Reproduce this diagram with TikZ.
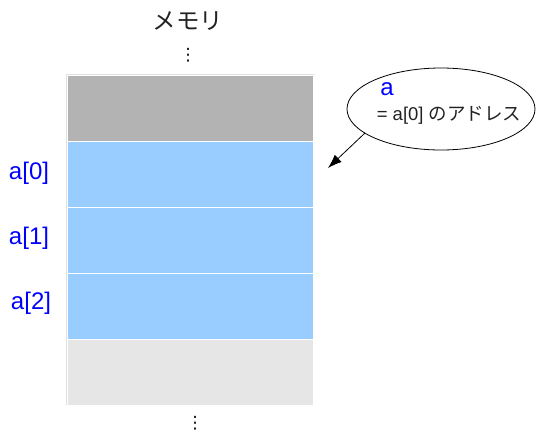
\documentclass[tikz,border=0pt]{standalone}
\usepackage{fontspec}
\setmainfont{Liberation Sans}
\newfontfamily\cjk{Noto Sans CJK JP}
\newfontfamily\dvs{DejaVu Sans}
\usetikzlibrary{arrows.meta,shapes.geometric}
\definecolor{cellgray}{HTML}{B3B3B3}
\definecolor{cellblue}{HTML}{99CCFF}
\definecolor{celllight}{HTML}{E6E6E6}
\definecolor{labelblue}{HTML}{0000FF}
\definecolor{txtgray}{HTML}{222222}
\tikzset{
  cell/.style={rectangle, minimum width=246pt, minimum height=66pt, inner sep=0pt, draw=white, line width=1pt},
  idx/.style={text=labelblue, font=\fontsize{24}{26}\selectfont, inner sep=0pt},
  dots/.style={font=\dvs\fontsize{17}{17}\selectfont, inner sep=0pt}
}
\begin{document}
\begin{tikzpicture}[x=1pt,y=-1pt]
\useasboundingbox (0,0) rectangle (537,439);
\draw[draw=black!12, line width=1pt] (66.5,74.5) rectangle (313.5,404.5);
\node[cell, fill=cellgray] (c0) at (190,108) {};
\node[cell, fill=cellblue] (c1) at (190,174) {};
\node[cell, fill=cellblue] (c2) at (190,240) {};
\node[cell, fill=cellblue] (c3) at (190,306) {};
\node[cell, fill=celllight] (c4) at (190,372) {};
\node[font=\cjk\fontsize{23.5}{25}\selectfont, text=txtgray, inner sep=0pt] (title) at (188,21) {メモリ};
\node[dots] (dtop) at (188,55) {⋮};
\node[dots] (dbot) at (195,423) {⋮};
\node[idx] (l0) at (29,173) {a[0]};
\node[idx] (l1) at (29,238) {a[1]};
\node[idx] (l2) at (31,303) {a[2]};
\node[ellipse, draw=black, line width=0.8pt, minimum width=188pt, minimum height=82pt, inner sep=0pt] (e) at (441,109) {};
\node[text=labelblue, font=\fontsize{24}{26}\selectfont, inner sep=0pt] (ea) at (387,89) {a};
\node[text=txtgray, font=\fontsize{18.5}{20}\selectfont, inner sep=0pt] (et) at (449,115) {= a[0] {\cjk のアドレス}};
\coordinate (tip) at (328,168);
\draw[line width=0.8pt, -{Latex[length=14pt,width=10pt]}] (365,133) -- (tip);
\end{tikzpicture}
\end{document}
